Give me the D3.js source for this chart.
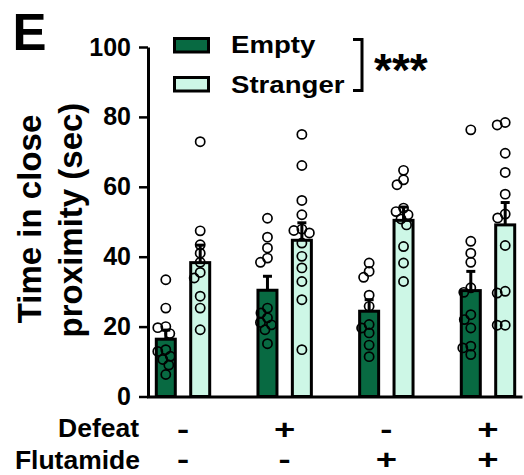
<!DOCTYPE html>
<html>
<head>
<meta charset="utf-8">
<script src="https://cdn.jsdelivr.net/npm/d3@7"></script>
<style>
  body { margin: 0; background: #fff; }
  text { font-family: "Liberation Sans", Arial, sans-serif; font-weight: bold; fill: #000; }
</style>
</head>
<body>
<div id="chart"></div>
<script>
// groups along the x axis and the two treatment rows under it
var groups = ["G1", "G2", "G3", "G4"];
var defeat = ["-", "+", "-", "+"];
var flutamide = ["-", "-", "+", "+"];
var series = ["Empty", "Stranger"];
var yTicks = [0, 20, 40, 60, 80, 100];

// bar heights (mean) and SEM
var emptyMean = [16.4, 30.4, 24.4, 30.3];
var emptySem = [2.6, 4.0, 3.3, 5.5];
var strangerMean = [38.3, 44.7, 50.4, 49.1];
var strangerSem = [5.0, 5.0, 3.8, 6.4];

// individual animals
var emptyPoints = [
    [33.4, 25.3, 20.0, 19.7, 18.0, 13.4, 12.9, 11.5, 10.6, 9.0, 6.3],
    [51.0, 45.6, 42.5, 39.6, 38.4, 25.3, 23.9, 22.5, 21.2, 20.5, 19.1, 15.1],
    [38.2, 35.8, 34.1, 29.0, 25.8, 20.6, 19.6, 18.2, 14.7, 11.4],
    [76.3, 44.4, 41.0, 38.4, 31.1, 29.8, 23.4, 22.0, 19.6, 14.4, 13.9, 12.0]
];
var strangerPoints = [
    [72.9, 47.4, 43.4, 41.0, 38.4, 35.5, 33.9, 28.7, 25.3, 19.1],
    [75.0, 66.1, 56.1, 52.0, 47.9, 47.5, 46.8, 43.9, 40.1, 36.8, 32.9, 27.7, 13.4],
    [64.7, 62.0, 60.6, 53.9, 52.9, 52.0, 50.8, 49.1, 42.9, 38.2, 32.9],
    [78.4, 77.7, 69.6, 64.1, 57.9, 52.2, 51.1, 43.2, 30.1, 29.6, 20.4, 20.4]
];

var width = 524;
var height = 475;
var colors = { Empty: "#086a42", Stranger: "#cdf7e6" };
var barWidth = 19;
var dotR = 4.6;

var svg = d3.select("#chart")
    .append("svg")
    .attr("width", width)
    .attr("height", height);

var y = d3.scaleLinear().domain([0, 100]).range([396.5, 47]);
var x = d3.scalePoint().domain(groups).range([183, 488]);
var sub = d3.scalePoint().domain(series).range([-17.2, 17.2]);

var stats = {
    Empty: { mean: emptyMean, sem: emptySem, pts: emptyPoints },
    Stranger: { mean: strangerMean, sem: strangerSem, pts: strangerPoints }
};

var bars = [];
groups.forEach(function (g, i) {
    series.forEach(function (s) {
        bars.push({ group: g, series: s, mean: stats[s].mean[i], sem: stats[s].sem[i], pts: stats[s].pts[i] });
    });
});

// simple beeswarm so overlapping circles get pushed sideways
function swarm(vals, minDist) {
    var order = vals.map(function (v, i) { return i; })
        .sort(function (a, b) { return vals[b] - vals[a]; });
    var placed = [];
    var out = [];
    order.forEach(function (i) {
        var py = y(vals[i]);
        var dx = 0;
        for (var k = 0; k < 80; k++) {
            var c = k === 0 ? 0 : (k % 2 ? -1 : 1) * Math.ceil(k / 2) * 0.5;
            var ok = placed.every(function (p) {
                return Math.hypot(p.x - c, p.y - py) >= minDist;
            });
            if (ok) { dx = c; break; }
        }
        placed.push({ x: dx, y: py });
        out.push({ v: vals[i], dx: dx });
    });
    return out;
}

// bars
svg.append("g")
    .selectAll("rect")
    .data(bars)
    .join("rect")
    .attr("x", function (d) { return x(d.group) + sub(d.series) - barWidth / 2; })
    .attr("y", function (d) { return y(d.mean); })
    .attr("width", barWidth)
    .attr("height", function (d) { return y(0) - y(d.mean); })
    .attr("fill", function (d) { return colors[d.series]; })
    .attr("stroke", "#000")
    .attr("stroke-width", 3);

// error bars (upper only)
var err = svg.append("g")
    .selectAll("g")
    .data(bars)
    .join("g")
    .attr("transform", function (d) { return "translate(" + (x(d.group) + sub(d.series)) + ",0)"; });
err.append("line")
    .attr("y1", function (d) { return y(d.mean); })
    .attr("y2", function (d) { return y(d.mean + d.sem); })
    .attr("stroke", "#000")
    .attr("stroke-width", 3);
err.append("line")
    .attr("x1", -4.5)
    .attr("x2", 4.5)
    .attr("y1", function (d) { return y(d.mean + d.sem); })
    .attr("y2", function (d) { return y(d.mean + d.sem); })
    .attr("stroke", "#000")
    .attr("stroke-width", 3);

// dots
bars.forEach(function (b) {
    var cx = x(b.group) + sub(b.series);
    svg.append("g")
        .selectAll("circle")
        .data(swarm(b.pts, 8))
        .join("circle")
        .attr("cx", function (d) { return cx + d.dx; })
        .attr("cy", function (d) { return y(d.v); })
        .attr("r", dotR)
        .attr("fill", "none")
        .attr("stroke", "#000")
        .attr("stroke-width", 1.7);
});

// y axis
var yAxis = svg.append("g")
    .attr("transform", "translate(148,0)")
    .call(d3.axisLeft(y).tickValues(yTicks).tickSize(9).tickSizeOuter(0).tickPadding(8));
yAxis.select(".domain").attr("stroke-width", 3);
yAxis.selectAll(".tick line").attr("stroke-width", 2.5);
yAxis.selectAll(".tick text")
    .attr("font-size", 25)
    .attr("font-family", "Liberation Sans, Arial, sans-serif")
    .attr("font-weight", "bold")
    .attr("fill", "#000");

// x axis line
var xLine = d3.scaleLinear().domain([0, 1]).range([146.5, 522]);
var xAxis = svg.append("g")
    .attr("transform", "translate(0," + y(0) + ")")
    .call(d3.axisBottom(xLine).tickValues([]).tickSizeOuter(0));
xAxis.select(".domain").attr("stroke-width", 3);

// helper for horizontally stretched labels
function label(txt, px, py, size, sx, anchor) {
    return svg.append("text")
        .attr("transform", "translate(" + px + "," + py + ") scale(" + sx + ",1)")
        .attr("font-size", size)
        .attr("text-anchor", anchor || "start")
        .text(txt);
}

// treatment rows
label("Defeat", 139, 437, 25, 1.06, "end");
label("Flutamide", 140, 468.5, 25, 1.06, "end");
groups.forEach(function (g, i) {
    label(defeat[i], x(g), 438.5, 27, 1.35, "middle");
    label(flutamide[i], x(g), 469, 27, 1.35, "middle");
});

// y title
svg.append("text")
    .attr("transform", "translate(41,219) rotate(-90)")
    .attr("font-size", 33)
    .attr("text-anchor", "middle")
    .text("Time in close");
svg.append("text")
    .attr("transform", "translate(82,220) rotate(-90)")
    .attr("font-size", 33)
    .attr("text-anchor", "middle")
    .text("proximity (sec)");

// panel letter
label("E", 12.5, 50, 51, 1, "start");

// legend
var legend = svg.append("g");
series.forEach(function (s, i) {
    legend.append("rect")
        .attr("x", 174.5)
        .attr("y", 38.5 + i * 39)
        .attr("width", 34)
        .attr("height", 13.5)
        .attr("fill", colors[s])
        .attr("stroke", "#000")
        .attr("stroke-width", 3);
    label(s, 231, 53 + i * 40, 24, 1.15, "start");
});

// significance bracket
svg.append("path")
    .attr("d", "M353,39.5H362V90.5H353")
    .attr("fill", "none")
    .attr("stroke", "#000")
    .attr("stroke-width", 3);
label("***", 374, 86, 46, 1, "start");
</script>
</body>
</html>
